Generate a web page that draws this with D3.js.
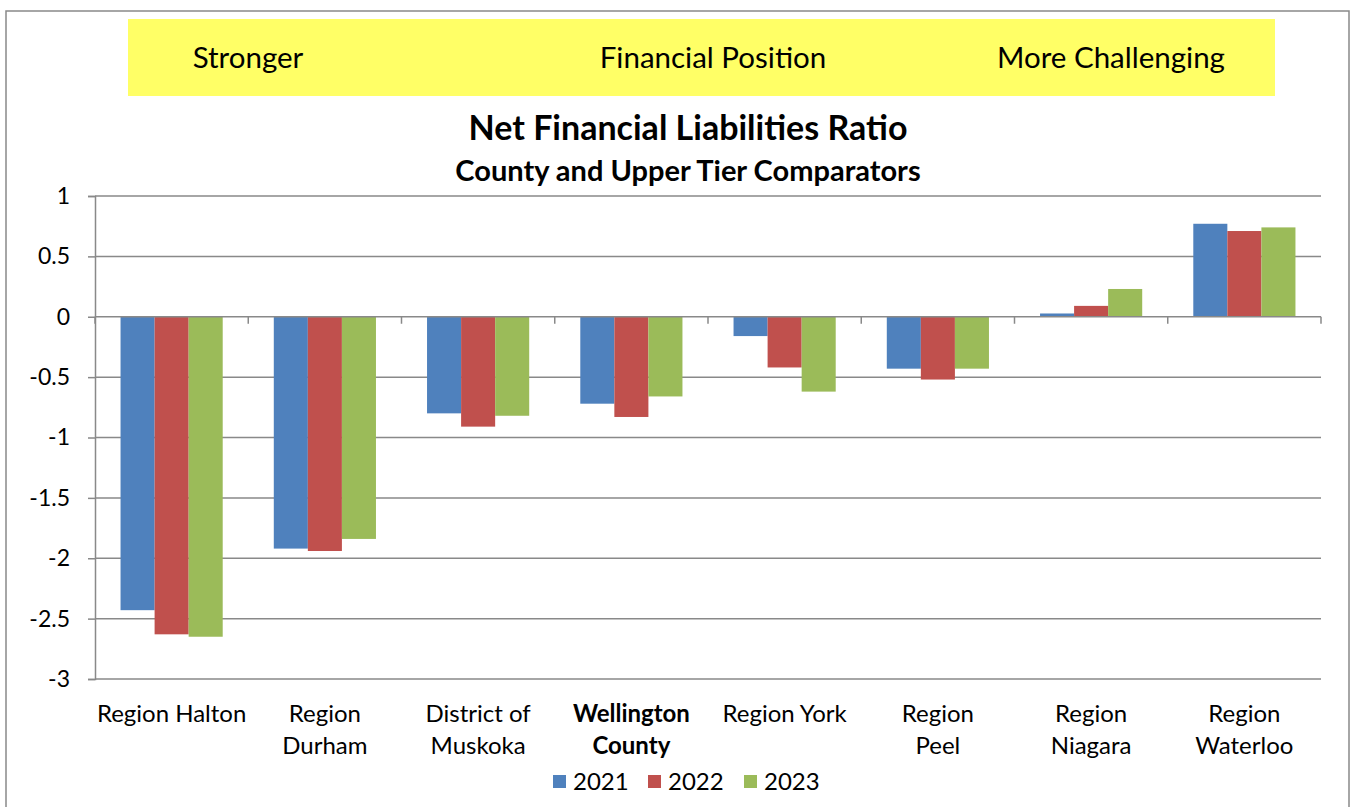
<!DOCTYPE html>
<html><head><meta charset="utf-8">
<script src="https://cdn.jsdelivr.net/npm/d3@7"></script>
<style>body{margin:0;background:#fff}svg{display:block;font-family:Lato,"Open Sans",sans-serif}</style>
</head><body><svg id="c" width="1351" height="807"></svg>
<script>
const categories = ["Region Halton","Region Durham","District of Muskoka","Wellington County","Region York","Region Peel","Region Niagara","Region Waterloo"];
const categoryLines = [["Region Halton"],["Region","Durham"],["District of","Muskoka"],["Wellington","County"],["Region York"],["Region","Peel"],["Region","Niagara"],["Region","Waterloo"]];
const boldCategory = "Wellington County";
const years = ["2021","2022","2023"];
const values2021 = [-2.43,-1.92,-0.80,-0.72,-0.16,-0.43,0.027,0.77];
const values2022 = [-2.63,-1.94,-0.91,-0.83,-0.42,-0.52,0.09,0.71];
const values2023 = [-2.65,-1.84,-0.82,-0.66,-0.62,-0.43,0.23,0.74];
const yTicks = [1,0.5,0,-0.5,-1,-1.5,-2,-2.5,-3];
const bannerLabels = ["Stronger","Financial Position","More Challenging"];
const colors = ["#4F81BD","#C0504D","#9BBB59"];

const series = [values2021, values2022, values2023];
const svg = d3.select("#c");
const L=95, R=1321, T=196, B=679;

// outer border
svg.append("rect").attr("x",6).attr("y",11).attr("width",1343).attr("height",820)
  .attr("fill","none").attr("stroke","#898989").attr("stroke-width",1.5);

// banner
svg.append("rect").attr("x",128).attr("y",19).attr("width",1147).attr("height",77).attr("fill","#FFFF66");
const bannerX = [248,713,1111];
bannerLabels.forEach((t,i)=>svg.append("text").attr("x",bannerX[i]).attr("y",68)
  .attr("text-anchor","middle").attr("font-size",29.5).attr("fill","#000").text(t));

// titles
svg.append("text").attr("x",688).attr("y",140).attr("text-anchor","middle")
  .attr("font-size",34).attr("font-weight","bold").text("Net Financial Liabilities Ratio");
svg.append("text").attr("x",688).attr("y",181).attr("text-anchor","middle")
  .attr("font-size",29).attr("font-weight","bold").text("County and Upper Tier Comparators");

const y = d3.scaleLinear().domain([-3,1]).range([B,T]);
const x0 = d3.scaleBand().domain(categories).range([L,R]).paddingInner(0).paddingOuter(0);
const x1 = d3.scaleBand().domain(years).range([0,x0.bandwidth()]).paddingInner(0).paddingOuter(0.75);

// gridlines + y axis
const yAxis = d3.axisLeft(y).tickValues(yTicks).tickSize(7).tickPadding(18).tickFormat(d=>String(d));
const gy = svg.append("g").attr("transform",`translate(${L},0)`).call(yAxis);
gy.select(".domain").attr("stroke","#898989").attr("stroke-width",1.5);
gy.selectAll(".tick line").attr("stroke","#898989").attr("stroke-width",1.5);
gy.selectAll(".tick text").attr("font-size",23).attr("fill","#000").attr("font-family","Lato");
svg.append("g").selectAll("line").data(yTicks.filter(d=>d!==0)).join("line")
  .attr("x1",L).attr("x2",R).attr("y1",d=>y(d)).attr("y2",d=>y(d))
  .attr("stroke","#898989").attr("stroke-width",1.5);

// bars
const gBars = svg.append("g");
years.forEach((yr,si)=>{
  gBars.append("g").selectAll("rect").data(series[si]).join("rect")
    .attr("x",(d,i)=>x0(categories[i])+x1(yr))
    .attr("width",x1.bandwidth())
    .attr("y",d=>y(Math.max(0,d)))
    .attr("height",d=>Math.abs(y(d)-y(0)))
    .attr("fill",colors[si]);
});

// x axis at zero
svg.append("line").attr("x1",L).attr("x2",R).attr("y1",y(0)).attr("y2",y(0))
  .attr("stroke","#898989").attr("stroke-width",1.5);
const bounds = categories.map(c=>x0(c)).concat([R]);
svg.append("g").selectAll("line").data(bounds).join("line")
  .attr("x1",d=>d).attr("x2",d=>d).attr("y1",y(0)).attr("y2",y(0)+7)
  .attr("stroke","#898989").attr("stroke-width",1.5);

// category labels
categories.forEach((c,i)=>{
  const t = svg.append("text").attr("x",x0(c)+x0.bandwidth()/2).attr("y",722)
    .attr("text-anchor","middle").attr("font-size",24)
    .attr("font-weight",c===boldCategory?"bold":"normal");
  categoryLines[i].forEach((ln,j)=>t.append("tspan").attr("x",x0(c)+x0.bandwidth()/2).attr("dy",j?32:0).text(ln));
});

// legend
const legX = [553,648,744];
years.forEach((yr,i)=>{
  svg.append("rect").attr("x",legX[i]).attr("y",775).attr("width",13).attr("height",13).attr("fill",colors[i]);
  svg.append("text").attr("x",legX[i]+20).attr("y",790).attr("font-size",24).text(yr);
});
</script></body></html>
